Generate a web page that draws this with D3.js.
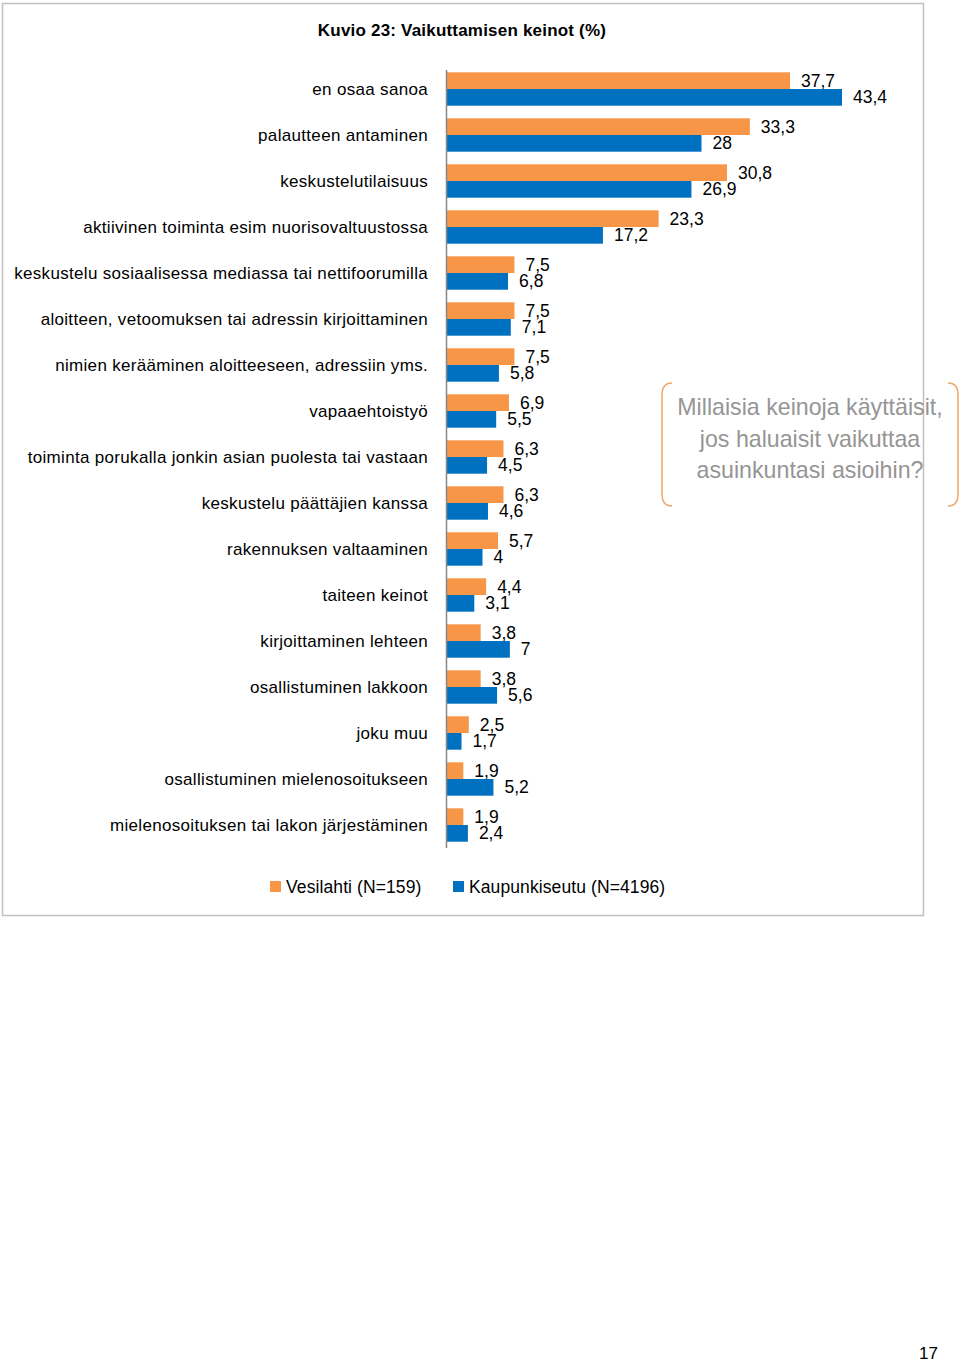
<!DOCTYPE html>
<html><head><meta charset="utf-8">
<script src="https://cdn.jsdelivr.net/npm/d3@7"></script>
<style>
body{margin:0;background:#fff;}
svg{display:block;font-family:"Liberation Sans",Arial,sans-serif;}
</style></head>
<body>
<svg id="c" width="960" height="1363"></svg>
<script>
const categories = [
  "en osaa sanoa",
  "palautteen antaminen",
  "keskustelutilaisuus",
  "aktiivinen toiminta esim nuorisovaltuustossa",
  "keskustelu sosiaalisessa mediassa tai nettifoorumilla",
  "aloitteen, vetoomuksen tai adressin kirjoittaminen",
  "nimien kerääminen aloitteeseen, adressiin yms.",
  "vapaaehtoistyö",
  "toiminta porukalla jonkin asian puolesta tai vastaan",
  "keskustelu päättäjien kanssa",
  "rakennuksen valtaaminen",
  "taiteen keinot",
  "kirjoittaminen lehteen",
  "osallistuminen lakkoon",
  "joku muu",
  "osallistuminen mielenosoitukseen",
  "mielenosoituksen tai lakon järjestäminen"
];
const vesilahti = [37.7, 33.3, 30.8, 23.3, 7.5, 7.5, 7.5, 6.9, 6.3, 6.3, 5.7, 4.4, 3.8, 3.8, 2.5, 1.9, 1.9];
const kaupunkiseutu = [43.4, 28, 26.9, 17.2, 6.8, 7.1, 5.8, 5.5, 4.5, 4.6, 4, 3.1, 7, 5.6, 1.7, 5.2, 2.4];
const seriesNames = ["Vesilahti (N=159)", "Kaupunkiseutu (N=4196)"];
const colors = ["#F79646", "#0070C0"];
const title = "Kuvio 23: Vaikuttamisen keinot (%)";
const calloutLines = ["Millaisia keinoja käyttäisit,", "jos haluaisit vaikuttaa", "asuinkuntasi asioihin?"];

const svg = d3.select("#c");
// frame
svg.append("rect").attr("x", 2.5).attr("y", 3.5).attr("width", 921).attr("height", 912)
  .attr("fill", "none").attr("stroke", "#bfbfbf").attr("stroke-width", 1.5);

svg.append("text").attr("x", 462).attr("y", 36).attr("text-anchor", "middle")
  .attr("font-size", 17).attr("letter-spacing", 0.2).attr("font-weight", "bold").attr("fill", "#000").text(title);

const x = d3.scaleLinear().domain([0, 43.4]).range([446, 842]);
const y = d3.scaleBand().domain(categories).range([66, 848]);
const inner = d3.scaleBand().domain([0, 1]).range([0, 33.4]);
const groupOff = (y.bandwidth() - 33.4) / 2;

const data = categories.map((c, i) => ({c, vals: [vesilahti[i], kaupunkiseutu[i]]}));
const fmt = v => String(v).replace(".", ",");

const g = svg.append("g");
data.forEach(d => {
  d.vals.forEach((v, s) => {
    const yy = y(d.c) + groupOff + inner(s);
    g.append("rect").attr("x", x(0)).attr("y", yy).attr("width", x(v) - x(0))
      .attr("height", inner.bandwidth()).attr("fill", colors[s]);
    g.append("text").attr("x", x(v) + 11).attr("y", yy + inner.bandwidth() / 2)
      .attr("dy", "0.35em").attr("font-size", 17.5).attr("fill", "#000").text(fmt(v));
  });
});

// category labels
svg.append("g").selectAll("text").data(categories).join("text")
  .attr("x", 428).attr("y", d => y(d) + y.bandwidth() / 2).attr("dy", "0.35em")
  .attr("text-anchor", "end").attr("font-size", 17).attr("letter-spacing", 0.32)
  .attr("fill", "#000").text(d => d);

// axis line
svg.append("line").attr("x1", 446.5).attr("x2", 446.5).attr("y1", 70).attr("y2", 848)
  .attr("stroke", "#888").attr("stroke-width", 1.5);

// callout
const cb = {x0: 662, x1: 958, y0: 383, y1: 506};
const bracket = svg.append("g").attr("fill", "none").attr("stroke", "#F0A868").attr("stroke-width", 1.5);
bracket.append("path").attr("d", `M${cb.x0 + 10},${cb.y0} Q${cb.x0},${cb.y0} ${cb.x0},${cb.y0 + 12} L${cb.x0},${cb.y1 - 12} Q${cb.x0},${cb.y1} ${cb.x0 + 10},${cb.y1}`);
bracket.append("path").attr("d", `M${cb.x1 - 10},${cb.y0} Q${cb.x1},${cb.y0} ${cb.x1},${cb.y0 + 12} L${cb.x1},${cb.y1 - 12} Q${cb.x1},${cb.y1} ${cb.x1 - 10},${cb.y1}`);
svg.append("g").selectAll("text").data(calloutLines).join("text")
  .attr("x", 810).attr("y", (d, i) => 407 + i * 31.5).attr("dy", "0.35em")
  .attr("text-anchor", "middle").attr("font-size", 23.2).attr("fill", "#959595").text(d => d);

// legend
const legX = [270, 453];
seriesNames.forEach((n, i) => {
  svg.append("rect").attr("x", legX[i]).attr("y", 881).attr("width", 11).attr("height", 11).attr("fill", colors[i]);
  svg.append("text").attr("x", legX[i] + 16).attr("y", 887).attr("dy", "0.35em")
    .attr("font-size", 17.5).attr("letter-spacing", 0.1).attr("fill", "#000").text(n);
});

// page number
svg.append("text").attr("x", 938).attr("y", 1353).attr("dy", "0.35em").attr("text-anchor", "end")
  .attr("font-size", 17).attr("fill", "#000").text("17");
</script>
</body></html>
